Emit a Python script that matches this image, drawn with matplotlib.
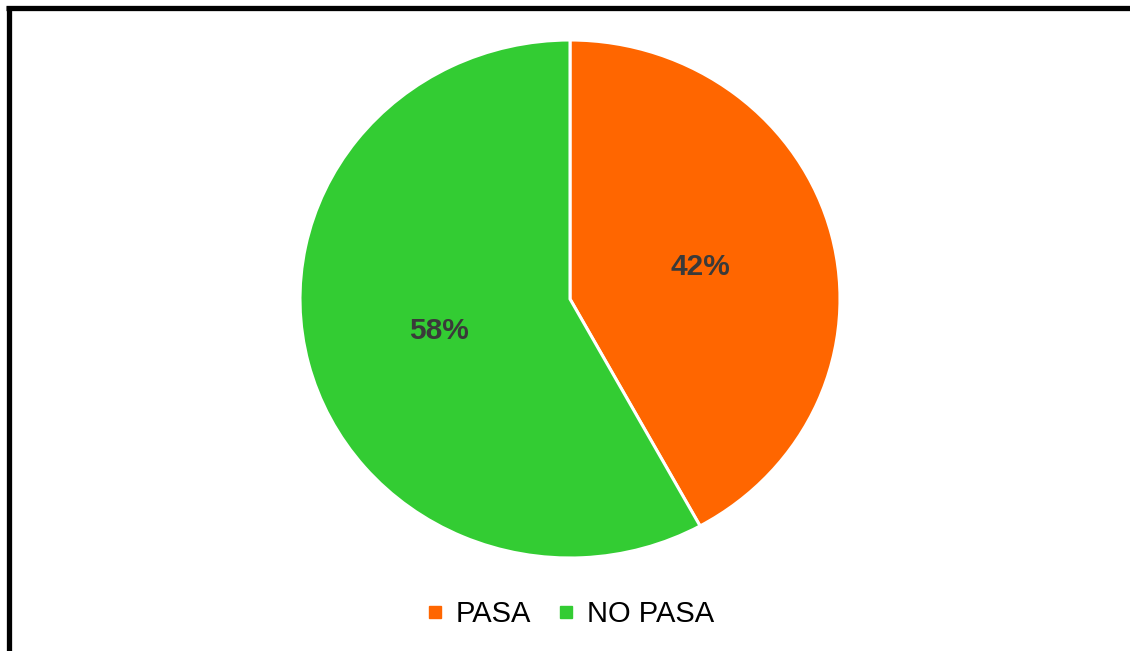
import matplotlib
matplotlib.use("Agg")
import matplotlib.pyplot as plt
from matplotlib.lines import Line2D

labels = ["PASA", "NO PASA"]
values = [42, 58]
colors = ["#FF6600", "#33CC33"]

W, H = 1130, 651
fig = plt.figure(figsize=(W / 100, H / 100), dpi=100)
fig.patch.set_facecolor("white")

# pie axes: x 300..840, y 40..558 (pixels)
ax = fig.add_axes([300 / W, 1 - 558 / H, 540 / W, 518 / H])
wedges, texts, autotexts = ax.pie(
    values, colors=colors, startangle=90, counterclock=False,
    autopct="%1.0f%%", pctdistance=0.5,
    wedgeprops=dict(edgecolor="white", linewidth=2.2),
    textprops=dict(fontsize=21.5, fontweight="bold", color="#3a3a3a",
                   family=["Liberation Sans", "DejaVu Sans"]),
)
ax.set_aspect("auto")
ax.set_xlim(-1, 1)
ax.set_ylim(-1, 1)
ax.axis("off")

handles = [Line2D([0], [0], marker="s", linestyle="none", markersize=8,
                  markerfacecolor=c, markeredgecolor=c) for c in colors]
fig.legend(handles, labels, loc="center", bbox_to_anchor=(571 / W, 1 - 614 / H),
           ncol=2, frameon=False, handlelength=0.5, handletextpad=0.45,
           columnspacing=0.95,
           prop=dict(family=["Liberation Sans", "DejaVu Sans"], size=21))

# frame lines (top and left)
fig.add_artist(Line2D([6 / W, 1], [1 - 7.5 / H, 1 - 7.5 / H], color="black",
                      linewidth=3.8, transform=fig.transFigure, solid_capstyle="butt"))
fig.add_artist(Line2D([8.5 / W, 8.5 / W], [0, 1 - 5.5 / H], color="black",
                      linewidth=3.8, transform=fig.transFigure, solid_capstyle="butt"))

fig.savefig("out.png", dpi=100, facecolor="white")
